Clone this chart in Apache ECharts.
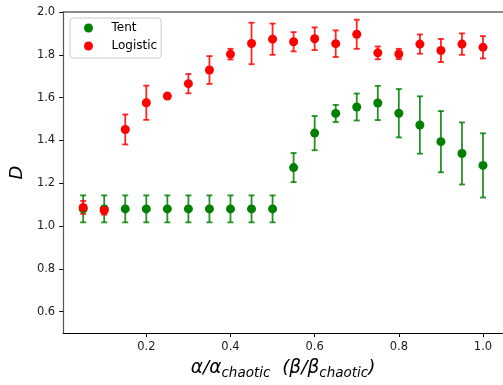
<!DOCTYPE html>
<html>
<head>
<meta charset="utf-8">
<script src="https://cdn.jsdelivr.net/npm/echarts@6/dist/echarts.min.js"></script>
<style>
  html, body { margin: 0; padding: 0; background: #fff; }
  #chart { width: 503px; height: 385px; }
</style>
</head>
<body>
<div id="chart"></div>
<script>
// ratio alpha/alpha_chaotic (same for both maps)
const xValues = [0.05, 0.1, 0.15, 0.2, 0.25, 0.3, 0.35, 0.4, 0.45, 0.5,
                 0.55, 0.6, 0.65, 0.7, 0.75, 0.8, 0.85, 0.9, 0.95, 1.0];

// Tent map: mean D and error
const tentMean = [1.08, 1.08, 1.08, 1.08, 1.08, 1.08, 1.08, 1.08, 1.08, 1.08,
                  1.273, 1.434, 1.526, 1.556, 1.575, 1.527, 1.472, 1.394, 1.339, 1.283];
const tentErr  = [0.063, 0.063, 0.063, 0.063, 0.063, 0.063, 0.063, 0.063, 0.063, 0.063,
                  0.068, 0.08, 0.04, 0.063, 0.08, 0.113, 0.134, 0.143, 0.145, 0.15];

// Logistic map: mean D and error
const logMean = [1.087, 1.073, 1.451, 1.576, 1.607, 1.665, 1.729, 1.803, 1.853, 1.873,
                 1.861, 1.875, 1.852, 1.896, 1.809, 1.804, 1.85, 1.82, 1.85, 1.835];
const logErr  = [0.03, 0.02, 0.07, 0.08, 0.008, 0.045, 0.065, 0.025, 0.097, 0.073,
                 0.045, 0.053, 0.062, 0.068, 0.03, 0.024, 0.045, 0.054, 0.05, 0.052];

const xTicks = [0.2, 0.4, 0.6, 0.8, 1.0];
const yTicks = [0.6, 0.8, 1.0, 1.2, 1.4, 1.6, 1.8, 2.0];

const font = 'DejaVu Sans';
const chart = echarts.init(document.getElementById('chart'));

function errorSeries(mean, err, color) {
    return {
        type: 'custom',
        data: xValues.map((x, i) => [x, mean[i] - err[i], mean[i] + err[i]]),
        renderItem: (params, api) => {
            const lo = api.coord([api.value(0), api.value(1)]);
            const hi = api.coord([api.value(0), api.value(2)]);
            const cap = 3;
            const style = { stroke: color, lineWidth: 1.8, opacity: 0.85 };
            return {
                type: 'group',
                children: [
                    { type: 'line', shape: { x1: lo[0], y1: lo[1], x2: hi[0], y2: hi[1] }, style },
                    { type: 'line', shape: { x1: lo[0] - cap, y1: lo[1], x2: lo[0] + cap, y2: lo[1] }, style },
                    { type: 'line', shape: { x1: hi[0] - cap, y1: hi[1], x2: hi[0] + cap, y2: hi[1] }, style }
                ]
            };
        },
        silent: true
    };
}

const option = {
    animation: false,
    backgroundColor: '#fff',
    grid: { left: 63, top: 12, right: 0, bottom: 46 },
    legend: {
        data: ['Tent', 'Logistic'],
        orient: 'vertical',
        left: 70,
        top: 18,
        itemWidth: 30,
        itemHeight: 9,
        itemGap: 4,
        padding: [3, 4, 5, 14],
        borderColor: '#ccc',
        borderWidth: 1,
        borderRadius: 3,
        backgroundColor: '#fff',
        textStyle: { fontFamily: font, fontSize: 12, color: '#000', lineHeight: 14, padding: [0, 0, 0, 3] }
    },
    xAxis: [{
        type: 'value',
        min: 0.0025,
        max: 1.0475,
        splitLine: { show: false },
        axisLine: { lineStyle: { color: '#000', width: 1 } },
        axisTick: { length: 4, customValues: xTicks, lineStyle: { color: '#000' } },
        axisLabel: { customValues: xTicks, margin: 8, fontFamily: font, fontSize: 11.5, color: '#222',
                     formatter: v => v.toFixed(1) },
        name: '{m|α/α}{s|chaotic}{m|  (β/β}{s|chaotic}{m|)}',
        nameLocation: 'middle',
        nameGap: 24,
        nameTextStyle: {
            rich: {
                m: { fontFamily: font, fontSize: 18.5, fontStyle: 'italic', color: '#000', lineHeight: 23 },
                s: { fontFamily: font, fontSize: 13.5, fontStyle: 'italic', color: '#000', lineHeight: 13, verticalAlign: 'bottom' }
            }
        }
    }, {
        // top spine only
        type: 'value',
        position: 'top',
        min: 0.0025,
        max: 1.0475,
        splitLine: { show: false },
        axisLine: { show: true, lineStyle: { color: '#666', width: 1.5 } },
        axisTick: { show: false },
        axisLabel: { show: false }
    }],
    yAxis: {
        type: 'value',
        min: 0.5,
        max: 2.0,
        splitLine: { show: false },
        axisLine: { show: true, lineStyle: { color: '#555', width: 1.2 } },
        axisTick: { show: true, length: 4, customValues: yTicks, lineStyle: { color: '#000' } },
        axisLabel: { customValues: yTicks, margin: 8, fontFamily: font, fontSize: 11.5, color: '#222',
                     formatter: v => v.toFixed(1) },
        name: 'D',
        nameLocation: 'middle',
        nameGap: 33,
        nameTextStyle: { fontFamily: font, fontSize: 18, fontStyle: 'italic', color: '#000' }
    },
    series: [
        errorSeries(tentMean, tentErr, '#008000'),
        {
            name: 'Tent',
            type: 'scatter',
            symbol: 'circle',
            symbolSize: 9,
            itemStyle: { color: '#008000', opacity: 1 },
            data: xValues.map((x, i) => [x, tentMean[i]])
        },
        errorSeries(logMean, logErr, '#ff0000'),
        {
            name: 'Logistic',
            type: 'scatter',
            symbol: 'circle',
            symbolSize: 9,
            itemStyle: { color: '#ff0000', opacity: 1 },
            data: xValues.map((x, i) => [x, logMean[i]])
        }
    ]
};

chart.setOption(option);
</script>
</body>
</html>
